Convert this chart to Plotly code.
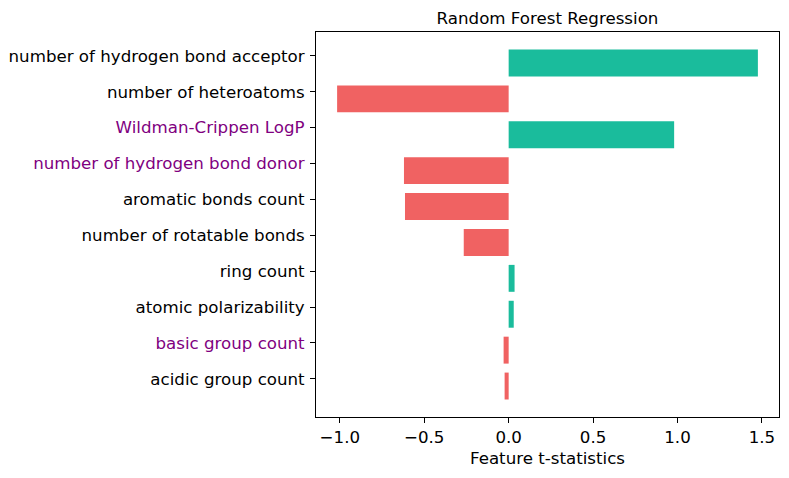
import plotly.graph_objects as go

features = [
    'number of hydrogen bond acceptor',
    'number of heteroatoms',
    'Wildman-Crippen LogP',
    'number of hydrogen bond donor',
    'aromatic bonds count',
    'number of rotatable bonds',
    'ring count',
    'atomic polarizability',
    'basic group count',
    'acidic group count',
]
t_stats = [1.476, -1.016, 0.980, -0.620, -0.614, -0.266, 0.035, 0.030, -0.030, -0.024]
highlighted = ['Wildman-Crippen LogP', 'number of hydrogen bond donor', 'basic group count']

colors = ['#1abc9c' if v > 0 else '#f06262' for v in t_stats]
positions = list(range(len(features)))
tick_text = [f'<span style="color:purple">{f}</span>' if f in highlighted else f
             for f in features]

fs = 16.67
bar_h = 0.75
shift = 0.2  # bars sit a little below their tick in the original

fig = go.Figure(go.Bar(
    x=t_stats, y=positions, orientation='h',
    marker_color=colors, marker_line_width=0,
    width=bar_h, offset=-bar_h / 2 + shift,
))

fig.update_layout(
    width=789, height=478,
    margin=dict(l=316, r=10, t=32, b=61),
    plot_bgcolor='white', paper_bgcolor='white',
    font=dict(family='DejaVu Sans', size=fs, color='black'),
    showlegend=False,
    title=dict(text='Random Forest Regression', x=0.5, xref='paper',
               y=1 - 18 / 478, yref='container', yanchor='middle',
               xanchor='center', font=dict(size=fs)),
)
fig.update_xaxes(
    range=[-1.141, 1.601], tickvals=[-1.0, -0.5, 0.0, 0.5, 1.0, 1.5],
    tickformat='.1f', ticks='outside', ticklen=5, tickcolor='black',
    tickfont=dict(size=fs),
    showgrid=False, zeroline=False, showline=True, linecolor='black',
    linewidth=1, mirror=True, automargin=False,
    title=dict(text='Feature t-statistics', standoff=6, font=dict(size=fs)),
)
fig.update_yaxes(
    range=[len(features) - 1 + 1.0625, -0.6625],
    tickvals=positions, ticktext=tick_text,
    ticks='outside', ticklen=5, tickcolor='black',
    tickfont=dict(size=fs), ticklabelstandoff=2,
    showgrid=False, zeroline=False, showline=True, linecolor='black',
    linewidth=1, mirror=True, automargin=False,
)

fig.write_html('out.html', config={'displayModeBar': False},
               post_script="document.body.style.margin = '0';")
